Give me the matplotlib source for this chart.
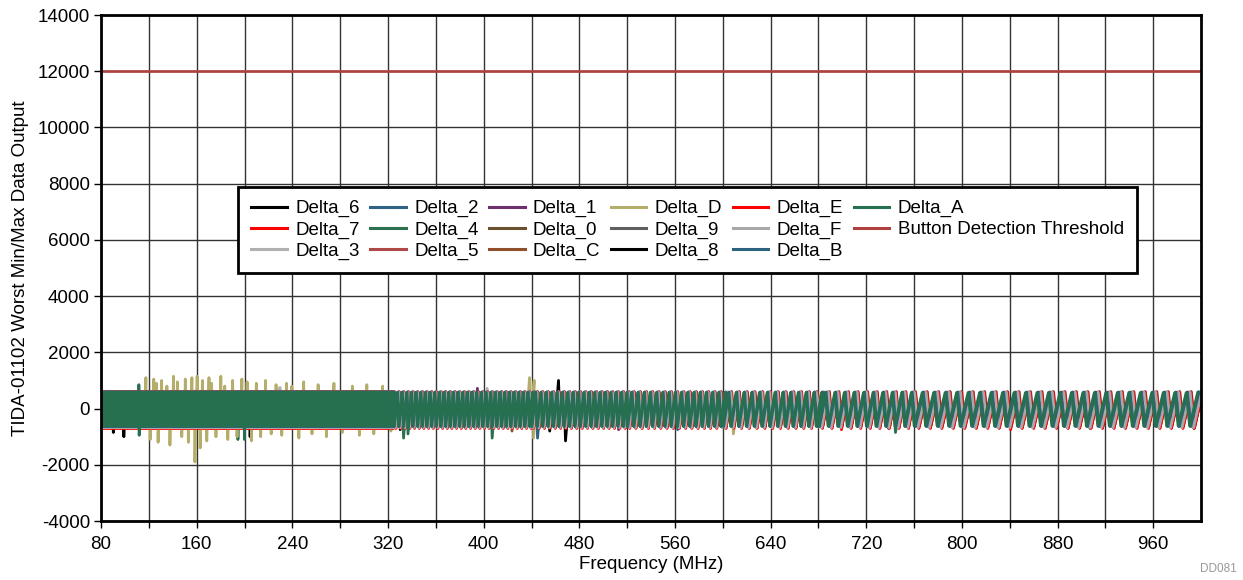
import numpy as np
import matplotlib.pyplot as plt

plt.rcParams['font.family'] = ['Liberation Sans', 'DejaVu Sans']
plt.rcParams['axes.unicode_minus'] = False

# sweep bands: start frequency of each band and the tooth period inside it (MHz)
band_start = [80, 325, 440, 520, 600, 680, 760, 1000]
band_period = [1.1, 3.9, 4.5, 5.2, 6.5, 8.0, 9.6]
rise = 0.7  # fraction of a tooth spent rising

names = ['Delta_6', 'Delta_7', 'Delta_3', 'Delta_2', 'Delta_4', 'Delta_5',
         'Delta_1', 'Delta_0', 'Delta_C', 'Delta_D', 'Delta_9', 'Delta_8',
         'Delta_E', 'Delta_F', 'Delta_B', 'Delta_A']
colors = ['#000000', '#ff0000', '#b0b0b0', '#2f6385', '#2d7050', '#b04848',
          '#6e2f6e', '#6b5030', '#8e4f2a', '#b5ae6a', '#606060', '#000000',
          '#ff0000', '#a8a8a8', '#2d6280', '#267050']
lows = [-660, -700, -650, -620, -630, -600, -610, -600, -600, -620, -620, -670,
        -700, -680, -640, -620]
highs = [560, 590, 600, 580, 560, 570, 560, 560, 560, 580, 600, 560,
         590, 580, 590, 570]
phases = [0.32, 0.40, 0.28, 0.12, 0.05, 0.22, 0.18, 0.26, 0.30, 0.36, 0.45, 0.38,
          0.42, 0.34, 0.10, 0.0]

# occasional spikes (frequency, value)
spike_f = {
    'Delta_6': [90, 99, 205, 330, 463, 464, 470, 740, 905],
    'Delta_7': [640, 700, 838],
    'Delta_3': [160, 230, 402],
    'Delta_2': [445, 560],
    'Delta_4': [112, 195, 332, 408, 745],
    'Delta_1': [395, 512],
    'Delta_C': [425],
    'Delta_D': [118, 121, 124, 126, 128, 131, 135, 138, 141, 144, 147, 150, 153,
                156, 158, 160, 163, 165, 168, 170, 173, 176, 180, 183, 186, 190,
                194, 198, 202, 206, 210, 214, 218, 222, 226, 231, 235, 240, 245,
                250, 256, 262, 268, 275, 282, 290, 296, 302, 308, 315, 322,
                440, 441, 442, 608],
    'Delta_8': [455, 1000],
    'Delta_A': [112, 200, 338],
}
spike_v = {
    'Delta_6': [-850, -1000, -1000, -750, 1100, 1000, -1150, -700, -700],
    'Delta_7': [-700, -750, -750],
    'Delta_3': [700, 750, 720],
    'Delta_2': [-1050, -750],
    'Delta_4': [850, -1100, -1050, -1050, -850],
    'Delta_1': [720, -750],
    'Delta_C': [-800],
    'Delta_D': [1100, -1100, 1050, 900, -1200, 1000, 800, -1300, 1150, 950,
                -1000, 1050, -1200, 1100, -1900, 1150, -1400, 1000, -1150, 1100,
                900, -1000, 1150, 800, -1100, 1000, -1000, 1050, 950, -1150,
                900, -1000, 1000, -900, 850, -950, 900, 800, -1050, 950,
                -900, 850, -1000, 900, -850, 800, -950, 850, -900, 800, -800,
                1100, 1000, -1050, -900],
    'Delta_8': [-800, -700],
    'Delta_A': [-950, -1100, -900],
}

threshold = 12000


def build_series(lo, hi, phase):
    xs, ys = [], []
    for start, stop, period in zip(band_start[:-1], band_start[1:], band_period):
        t = start + phase * period
        while t < stop:
            xs += [t, t + rise * period]
            ys += [lo, hi]
            t += period
    return np.array(xs), np.array(ys, dtype=float)


fig = plt.figure(figsize=(12.43, 5.8), dpi=100)
ax = fig.add_axes([0.0813, 0.1017, 0.885, 0.8724])

for name, c, lo, hi, ph in zip(names, colors, lows, highs, phases):
    x, y = build_series(lo, hi, ph)
    for f, v in zip(spike_f.get(name, []), spike_v.get(name, [])):
        idx = np.arange(1 if v > 0 else 0, len(x), 2)
        i = idx[np.argmin(np.abs(x[idx] - f))]
        y[i] = v
    ax.plot(x, y, color=c, lw=2.0, label=name)

ax.plot([80, 1000], [threshold, threshold], color='#b04040', lw=1.9,
        label='Button Detection Threshold')

ax.set_xlim(80, 1000)
ax.set_ylim(-4000, 14000)
xt = np.arange(80, 1000, 40)
ax.set_xticks(xt)
ax.set_xticklabels([str(v) if (v - 80) % 80 == 0 else '' for v in xt])
ax.set_yticks(np.arange(-4000, 14001, 2000))
ax.tick_params(direction='out', length=5, width=1, labelsize=13.5)
ax.tick_params(axis='x', pad=6)
ax.tick_params(axis='y', pad=3)
ax.grid(True, color='0.2', lw=1.0)
ax.set_axisbelow(True)
for s in ax.spines.values():
    s.set_linewidth(2)

ax.set_xlabel('Frequency (MHz)', fontsize=13.5, labelpad=2)
ax.set_ylabel('TIDA-01102 Worst Min/Max Data Output', fontsize=13.5, labelpad=6)

leg = ax.legend(ncol=6, loc='upper left', bbox_to_anchor=(0.1245, 0.660),
                fontsize=13.5, frameon=True, fancybox=False, edgecolor='black',
                framealpha=1, handlelength=1.9, handletextpad=0.45,
                columnspacing=0.55, labelspacing=0.2, borderpad=0.7,
                borderaxespad=0)
leg.get_frame().set_linewidth(2)
for line in leg.get_lines():
    line.set_linewidth(2.2)

fig.text(0.995, 0.008, 'DD081', fontsize=8.5, color='0.6', ha='right', va='bottom')

fig.savefig('out.png', dpi=100)
